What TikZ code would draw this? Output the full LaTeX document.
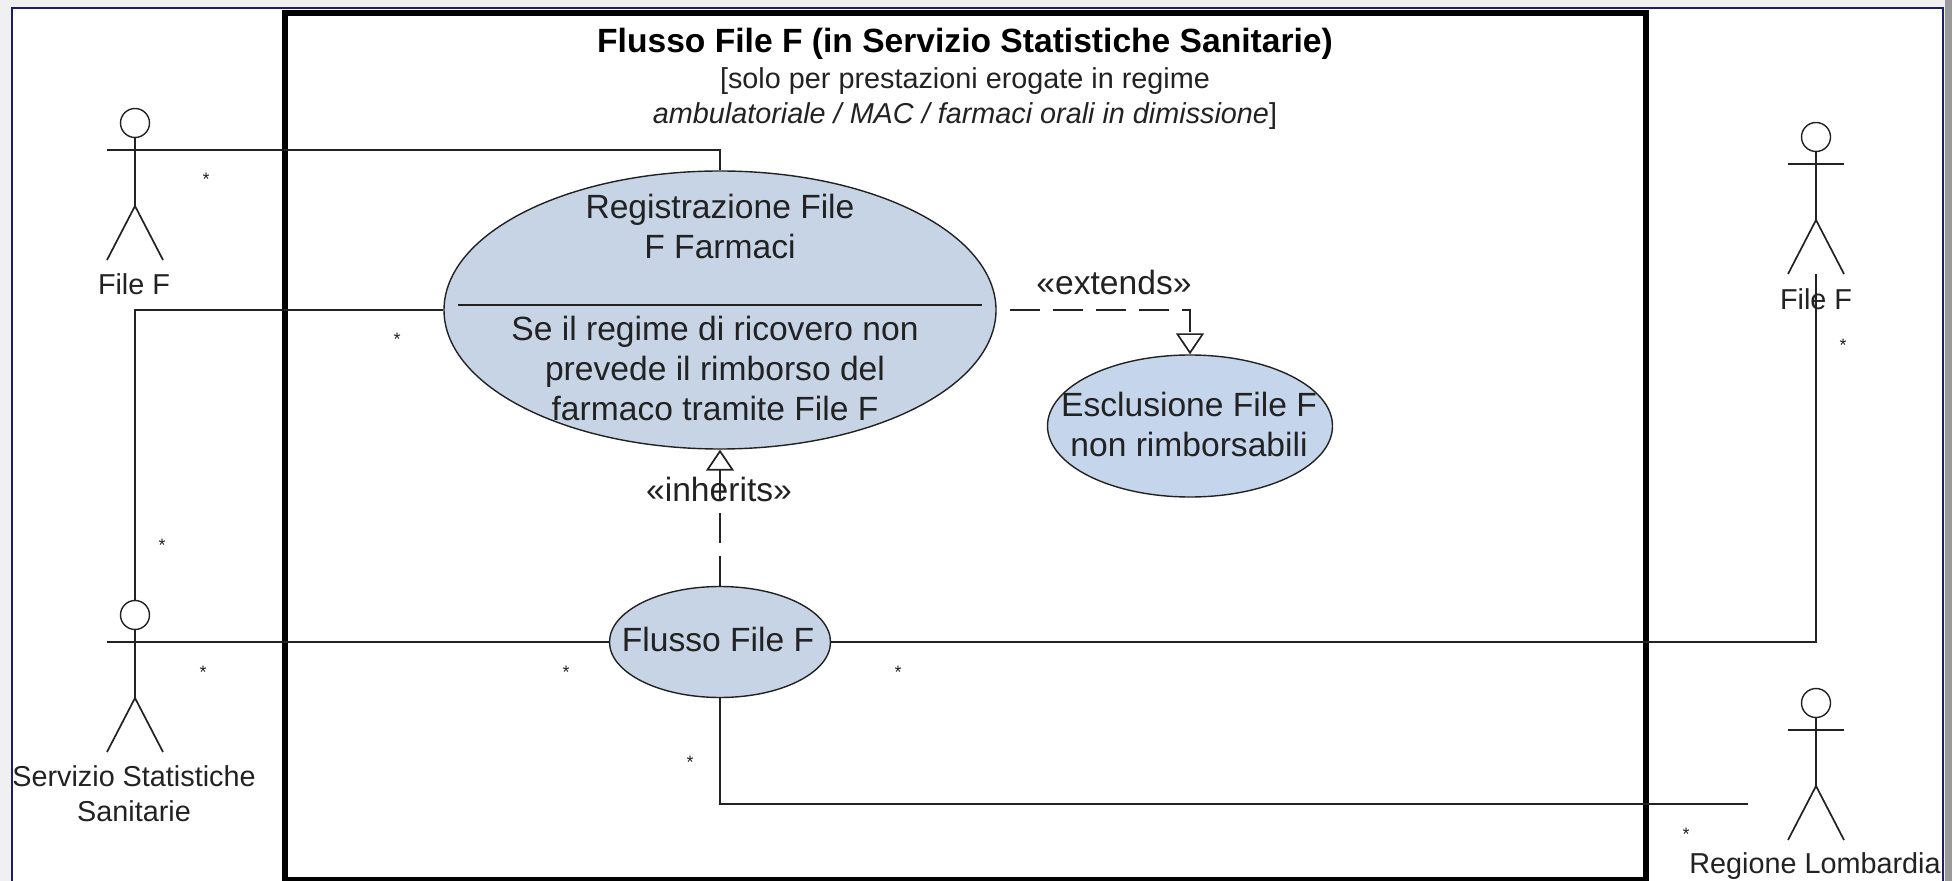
\documentclass[tikz,border=0pt]{standalone}
\usepackage{fontspec}
\setmainfont{Liberation Sans}
\usetikzlibrary{shapes.geometric,arrows.meta}
\definecolor{framenavy}{HTML}{1B1F6B}
\definecolor{casefill}{HTML}{C6D4E5}
\definecolor{casefillb}{HTML}{C5D6EC}
\definecolor{inktone}{HTML}{222222}
\tikzset{
  usecase/.style={ellipse,draw=inktone,fill=casefill,line width=.7pt,inner sep=0pt},
  casetext/.style={align=center,text=inktone,font=\fontsize{16.8}{20}\selectfont},
  actortext/.style={align=center,text=inktone,font=\fontsize{14.4}{17.5}\selectfont},
  starmark/.style={inner sep=0pt,text=inktone,font=\fontsize{9}{10}\selectfont},
  wire/.style={draw=inktone,line width=.85pt},
  relation/.style={wire,dash pattern=on 14.75pt off 6.75pt,-{Triangle[open,length=10.5pt,width=14pt,fill=white]}},
  stickman/.pic={
    \node[circle,draw=inktone,line width=.7pt,minimum size=14.5pt,inner sep=0pt] (-head) at (0,0) {};
    \coordinate (-armL) at (-28,27);
    \coordinate (-armR) at (28,27);
    \coordinate (-hip) at (0,83);
    \coordinate (-legL) at (-28,137);
    \coordinate (-legR) at (28,137);
    \coordinate (-foot) at (0,137);
    \draw[wire] (-head) -- (-hip);
    \draw[wire] (-armL) -- (-armR);
    \draw[wire] (-legL) -- (-hip) -- (-legR);
  }
}
\begin{document}
\begin{tikzpicture}[x=.5pt,y=-.5pt]
  \useasboundingbox (0,0) rectangle (1952,881);
  \fill[black!6] (0,0) rectangle (1952,881);
  \fill[black!40] (1945,0) rectangle (1952,881);
  \draw[framenavy,line width=1pt,fill=white] (12,8) rectangle (1943,890);
  \draw[black,line width=3.2pt] (285,13) rectangle (1646,880);

  \node[font=\fontsize{16.8}{20}\selectfont\bfseries,text=black] (title) at (965,44) {Flusso File F (in Servizio Statistiche Sanitarie)};
  \node[casetext,font=\fontsize{14.4}{17.5}\selectfont] (subtitle) at (965,99) {[solo per prestazioni erogate in regime\\\textit{ambulatoriale / MAC / farmaci orali in dimissione}]};

  \node[usecase,minimum width=276pt,minimum height=139pt] (registra) at (720,310) {};
  \node[casetext] (registraA) at (720,226) {Registrazione File\\F Farmaci};
  \node[casetext] (registraB) at (715,368) {Se il regime di ricovero non\\prevede il rimborso del\\farmaco tramite File F};
  \coordinate (ruleL) at (458,305);
  \coordinate (ruleR) at (982,305);
  \draw[wire] (ruleL) -- (ruleR);

  \node[usecase,fill=casefillb,minimum width=142.5pt,minimum height=71pt] (esclusione) at (1190,426) {};
  \node[casetext] (esclusioneT) at (1189,424) {Esclusione File F\\non rimborsabili};
  \node[usecase,minimum width=110.5pt,minimum height=55.5pt] (flusso) at (720,642) {};
  \node[casetext] (flussoT) at (718,639) {Flusso File F};

  \pic (fileL) at (135,123) {stickman};
  \pic (serv) at (135,615) {stickman};
  \pic (fileR) at (1816,137) {stickman};
  \pic (regione) at (1816,703) {stickman};
  \node[actortext] (fileLT) at (134,284) {File F};
  \node[actortext] (servT) at (134,794) {Servizio Statistiche\\Sanitarie};
  \node[actortext] (fileRT) at (1816,299) {File F};
  \node[actortext] (regioneT) at (1815,866) {Regione Lombardia};

  \coordinate (regioneEnd) at (1748,804);
  \draw[wire] (fileL-armL) -| (registra.north);
  \draw[wire] (registra.west) -| (serv-head.north);
  \draw[wire] (serv-armL) -- (flusso.west);
  \draw[wire] (flusso.east) -| (fileR-foot);
  \draw[wire] (flusso.south) |- (regioneEnd);

  \draw[relation,dash phase=14.75pt] (registra.east) -| (esclusione.north);
  \draw[relation] (flusso.north) -- (registra.south);
  \node[casetext] (extendsT) at (1114,282) {«extends»};
  \node[casetext] (inheritsT) at (719,489) {«inherits»};

  \foreach \name/\x/\y in {starA/206/179,starB/397/339,starC/162/545,starD/203/672,starE/566/672,starF/898/672,starG/690/762,starH/1686/834,starI/1843/345}
    \node[starmark] (\name) at (\x,\y) {*};
\end{tikzpicture}
\end{document}
